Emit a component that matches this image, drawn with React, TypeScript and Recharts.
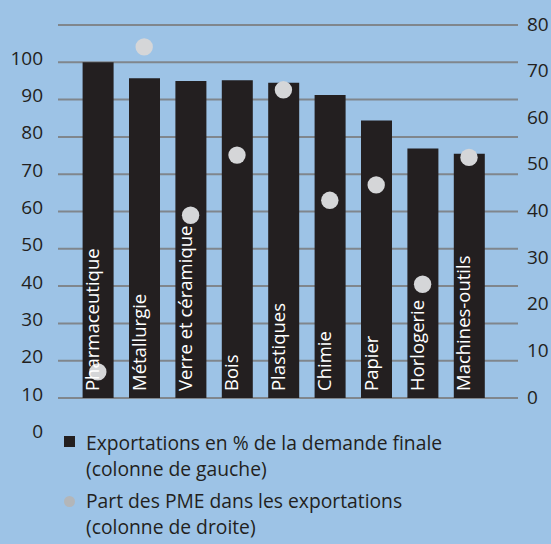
import { Bar, CartesianGrid, ComposedChart, LabelList, Line, XAxis, YAxis } from "recharts";

const categories = [
  "Pharmaceutique",
  "Métallurgie",
  "Verre et céramique",
  "Bois",
  "Plastiques",
  "Chimie",
  "Papier",
  "Horlogerie",
  "Machines-outils",
];
// exportations en % de la demande finale (colonne de gauche)
const exportShare = [100, 95.7, 95.0, 95.2, 94.5, 91.2, 84.4, 76.9, 75.5];
// part des PME dans les exportations (colonne de droite)
const smeShare = [5.6, 75.3, 39.2, 52.1, 66.1, 42.4, 45.7, 24.4, 51.6];

const leftTicks = [10, 20, 30, 40, 50, 60, 70, 80, 90, 100, 110];
const rightTicks = [0, 10, 20, 30, 40, 50, 60, 70, 80];

const data = categories.map((name, i) => ({
  name,
  exp: exportShare[i],
  pme: smeShare[i],
}));

const BG = "#9DC3E6";
const DARK = "#231F20";
const DOT = "#D5D6D8";
const FONT = "'Open Sans', sans-serif";

const LeftTick = (props: any) => {
  const { x, y, payload } = props;
  if (payload.value === 110) return null;
  return (
    <g>
      <text x={x} y={y} dy={-4.5} textAnchor="end" dominantBaseline="central" fill={DARK} fontSize={19}>
        {payload.value}
      </text>
      {payload.value === 10 && (
        <text x={x} y={y + 37.3} dy={-4.5} textAnchor="end" dominantBaseline="central" fill={DARK} fontSize={19}>
          0
        </text>
      )}
    </g>
  );
};

const RightTick = (props: any) => {
  const { x, y, payload } = props;
  return (
    <text x={x} y={y} dy={-1.5} textAnchor="start" dominantBaseline="central" fill={DARK} fontSize={19}>
      {payload.value}
    </text>
  );
};

const CategoryLabel = (props: any) => {
  const { x, y, width, height, value } = props;
  const cx = x + width / 2 + 1;
  const by = y + height - 7;
  return (
    <text x={cx} y={by} transform={`rotate(-90 ${cx} ${by})`} textAnchor="start" fill="#fff" fontSize={18.5}>
      {value}
    </text>
  );
};

export default function App() {
  return (
    <div
      style={{
        position: "absolute",
        left: 0,
        top: 0,
        width: 551,
        height: 544,
        background: BG,
        fontFamily: FONT,
        overflow: "hidden",
      }}
    >
      <ComposedChart width={551} height={544} data={data} margin={{ top: 25, right: 0, bottom: 146, left: 0 }}>
        <CartesianGrid yAxisId="left" vertical={false} stroke="#80868C" strokeWidth={2} />
        <XAxis dataKey="name" type="category" hide padding={{ left: 16.6, right: 25.8 }} />
        <YAxis
          yAxisId="left"
          orientation="left"
          domain={[10, 110]}
          ticks={leftTicks}
          interval={0}
          width={58}
          axisLine={false}
          tickLine={false}
          tickSize={0}
          tickMargin={15}
          tick={<LeftTick />}
        />
        <YAxis
          yAxisId="right"
          orientation="right"
          domain={[0, 80]}
          ticks={rightTicks}
          interval={0}
          width={33}
          axisLine={false}
          tickLine={false}
          tickSize={0}
          tickMargin={9}
          tick={<RightTick />}
        />
        <Bar yAxisId="left" dataKey="exp" fill={DARK} barSize={31} isAnimationActive={false}>
          <LabelList dataKey="name" content={<CategoryLabel />} />
        </Bar>
        <Line
          yAxisId="right"
          dataKey="pme"
          stroke="none"
          dot={{ r: 8.7, fill: DOT, stroke: "none" }}
          activeDot={false}
          isAnimationActive={false}
        />
      </ComposedChart>
      <div style={{ position: "absolute", left: 64, top: 436, width: 11, height: 11, background: DARK }} />
      <div
        style={{ position: "absolute", left: 86, top: 429.5, fontSize: 19.3, lineHeight: "26px", color: DARK, whiteSpace: "nowrap" }}
      >
        Exportations en % de la demande finale
        <br />
        (colonne de gauche)
      </div>
      <div
        style={{ position: "absolute", left: 64, top: 496, width: 11, height: 11, borderRadius: "50%", background: "#B3B6B9" }}
      />
      <div
        style={{ position: "absolute", left: 86, top: 488, fontSize: 19.3, lineHeight: "26px", color: DARK, whiteSpace: "nowrap" }}
      >
        Part des PME dans les exportations
        <br />
        (colonne de droite)
      </div>
    </div>
  );
}
